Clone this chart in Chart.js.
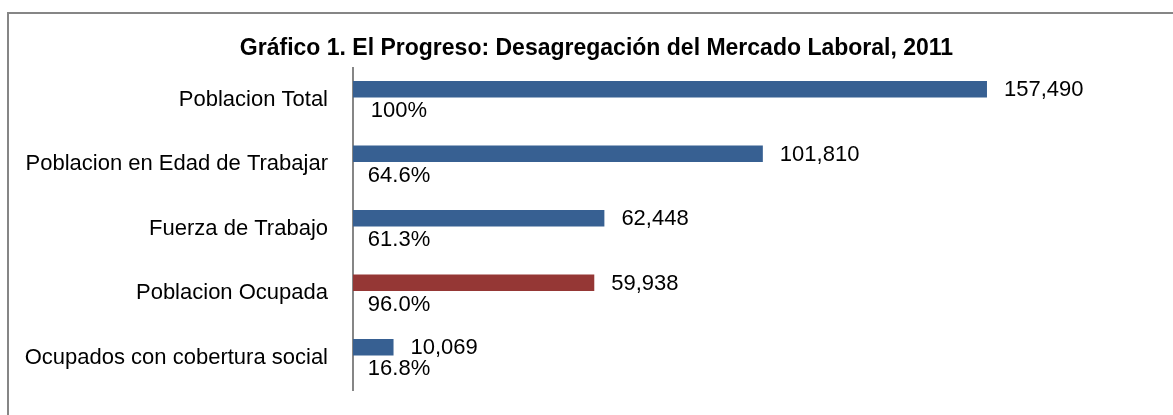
<!DOCTYPE html>
<html>
<head>
<meta charset="utf-8">
<script src="https://cdn.jsdelivr.net/npm/chart.js@4/dist/chart.umd.min.js"></script>
<style>
  html, body { margin: 0; padding: 0; background: #fff; }
  #wrap { position: relative; width: 1173px; height: 415px; overflow: hidden; }
  #frame { position: absolute; left: 7px; top: 12px; width: 1300px; height: 500px;
           border-top: 2px solid #868686; border-left: 2px solid #868686; }
  #bar_chart { position: absolute; left: 0; top: 0; }
</style>
</head>
<body>
<div id="wrap">
  <div id="frame"></div>
  <canvas id="bar_chart" width="1173" height="415"></canvas>
</div>
<script>
const CATEGORIES = [
  "Poblacion Total",
  "Poblacion en Edad de Trabajar",
  "Fuerza de Trabajo",
  "Poblacion Ocupada",
  "Ocupados con cobertura social"
];
const PERSONAS = [157490, 101810, 62448, 59938, 10069];
const PORCENTAJES = [100, 64.6, 61.3, 96.0, 16.8];
const BAR_COLORS = ["#376092", "#376092", "#376092", "#953735", "#376092"];

const FONT = "'Liberation Sans', Arial, sans-serif";

// draws the value labels and the percentage labels under each bar
const labelsPlugin = {
  id: 'labels',
  afterDatasetsDraw(chart) {
    const ctx = chart.ctx;
    const xScale = chart.scales.x;
    ctx.save();
    ctx.font = "22px " + FONT;
    ctx.fillStyle = "#000";
    ctx.textBaseline = "middle";

    chart.getDatasetMeta(0).data.forEach((bar, i) => {
      ctx.textAlign = "left";
      ctx.fillText(PERSONAS[i].toLocaleString('en-US'), bar.x + 17, bar.y + 1);
    });

    chart.getDatasetMeta(1).data.forEach((bar, i) => {
      const v = PORCENTAJES[i];
      const txt = (v === 100 ? "100" : v.toFixed(1)) + "%";
      ctx.textAlign = "center";
      ctx.fillText(txt, xScale.left + 46, bar.y + 1);
    });
    ctx.restore();
  }
};

new Chart(document.getElementById('bar_chart'), {
  type: 'bar',
  data: {
    labels: CATEGORIES,
    datasets: [{
      data: PERSONAS,
      backgroundColor: BAR_COLORS,
      categoryPercentage: 0.652,
      barPercentage: 0.786
    }, {
      data: PERSONAS.map(() => 0),
      backgroundColor: 'rgba(0,0,0,0)',
      categoryPercentage: 0.652,
      barPercentage: 0.786
    }]
  },
  options: {
    indexAxis: 'y',
    responsive: false,
    animation: false,
    layout: {
      padding: { left: 20, right: 0, top: 0, bottom: 25 }
    },
    plugins: {
      legend: { display: false },
      tooltip: { enabled: false },
      title: {
        display: true,
        text: "Gráfico 1. El Progreso: Desagregación del Mercado Laboral, 2011",
        color: "#000",
        font: { family: FONT, size: 23, weight: 'bold' },
        padding: { top: 35, bottom: 5 }
      }
    },
    scales: {
      x: {
        display: false,
        min: 0,
        max: 203700
      },
      y: {
        afterFit(scale) {
          scale.width = 333;
          scale.paddingTop = 0;
          scale.paddingBottom = 0;
        },
        grid: { display: true, drawOnChartArea: false, drawTicks: false },
        border: { display: true, color: "#868686", width: 2 },
        ticks: {
          color: "#000",
          padding: 25,
          font: { family: FONT, size: 22 }
        }
      }
    }
  },
  plugins: [labelsPlugin]
});
</script>
</body>
</html>
